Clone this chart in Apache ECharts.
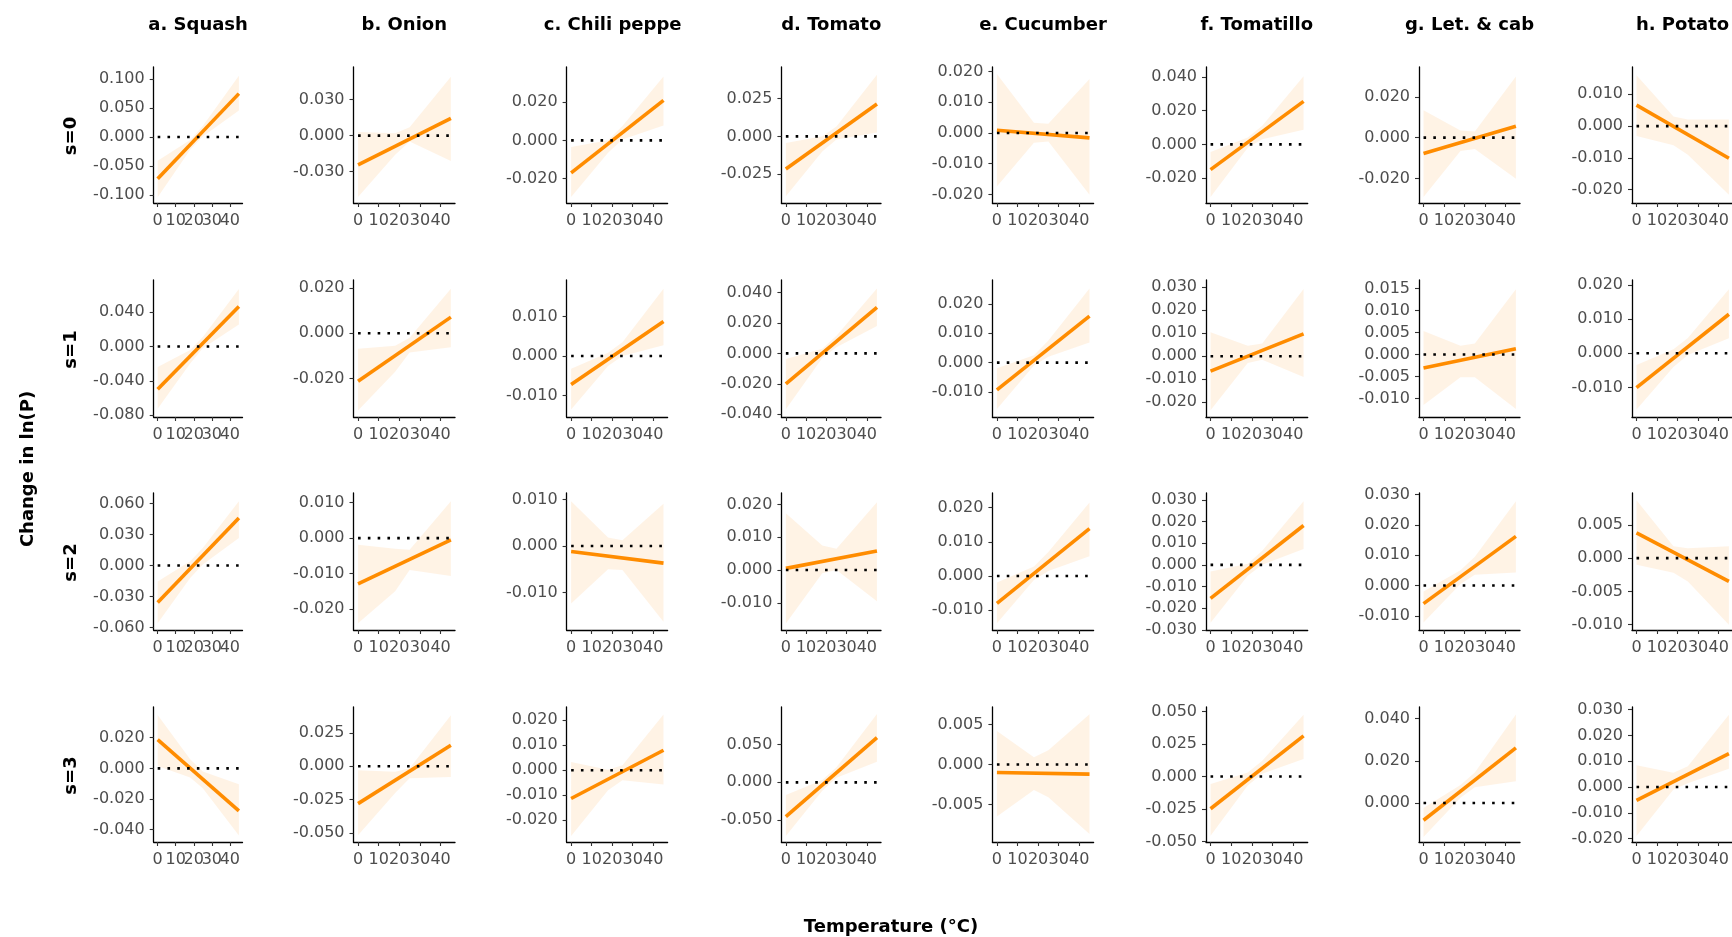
<!DOCTYPE html>
<html><head><meta charset="utf-8">
<script src="https://cdn.jsdelivr.net/npm/echarts@6/dist/echarts.min.js"></script>
<style>html,body{margin:0;padding:0;background:#fff;overflow:hidden}#chart{width:1732px;height:937px}</style>
</head><body><div id="chart"></div>
<script>
// ---------- data ----------
const crops = ['a. Squash','b. Onion','c. Chili pepper','d. Tomato','e. Cucumber','f. Tomatillo','g. Let. & cab','h. Potato'];
const lags = ['s=0','s=1','s=2','s=3'];
const tempTicks = [0,10,20,30,40];
const lineX = [0,45];
const zeroX = [0,45];
const bandX = [0,18,25,45];
const xTitle = 'Temperature (°C)';
const yTitle = 'Change in ln(P)';

// s=0
const est_s0 = [[-0.072,0.075],[-0.0243,0.0144],[-0.017,0.0209],[-0.0216,0.0214],[0.0009,-0.0016],[-0.015,0.0255],[-0.0078,0.0056],[0.0066,-0.0101]];
const lo_s0 = [[-0.104,-0.022,0.001,0.046],[-0.051,-0.016,-0.005,-0.021],[-0.0296,-0.0065,0.0005,0.0078],[-0.0396,-0.010,-0.002,0.0026],[-0.0174,-0.0032,-0.0028,-0.0201],[-0.0313,-0.002,0.003,0.0087],[-0.0291,-0.0065,-0.0055,-0.0201],[-0.0031,-0.006,-0.009,-0.0216]];
const hi_s0 = [[-0.041,-0.005,0.019,0.106],[0.003,0.002,0.007,0.049],[-0.0035,0.0,0.0075,0.0334],[-0.0044,0.0,0.0065,0.0407],[0.0192,0.0033,0.003,0.0176],[-0.0046,0.004,0.011,0.0404],[0.0134,0.0035,0.003,0.030],[0.016,0.003,0.0021,0.0021]];
const yTicks_s0 = [[-0.1,-0.05,0,0.05,0.1],[-0.03,0,0.03],[-0.02,0,0.02],[-0.025,0,0.025],[-0.02,-0.01,0,0.01,0.02],[-0.02,0,0.02,0.04],[-0.02,0,0.02],[-0.02,-0.01,0,0.01]];
const yRange_s0 = [[-0.114,0.121],[-0.056,0.057],[-0.0327,0.0383],[-0.044,0.0458],[-0.0228,0.0215],[-0.0348,0.0459],[-0.032,0.0346],[-0.0242,0.0186]];

// s=1
const est_s1 = [[-0.050,0.0466],[-0.0212,0.0071],[-0.0072,0.0087],[-0.0201,0.0302],[-0.0093,0.0158],[-0.0065,0.0097],[-0.0031,0.0013],[-0.010,0.0114]];
const lo_s1 = [[-0.0726,-0.020,-0.002,0.0256],[-0.0341,-0.017,-0.0085,-0.0062],[-0.0135,-0.0025,0.0,0.0027],[-0.0367,-0.003,0.004,0.0179],[-0.0158,-0.001,0.002,0.0068],[-0.0236,-0.003,-0.0015,-0.0091],[-0.0115,-0.0052,-0.0052,-0.0124],[-0.0164,-0.004,-0.0005,0.0044]];
const hi_s1 = [[-0.024,-0.004,0.011,0.0671],[-0.0069,-0.0055,-0.002,0.0196],[-0.0032,0.0008,0.0035,0.017],[-0.0037,0.003,0.0115,0.0426],[-0.0019,0.0025,0.0075,0.0252],[0.0104,0.0045,0.0055,0.0293],[0.0053,0.002,0.0025,0.0148],[-0.0034,0.0012,0.0045,0.0187]];
const yTicks_s1 = [[-0.08,-0.04,0,0.04],[-0.02,0,0.02],[-0.01,0,0.01],[-0.04,-0.02,0,0.02,0.04],[-0.01,0,0.01,0.02],[-0.02,-0.01,0,0.01,0.02,0.03],[-0.01,-0.005,0,0.005,0.01,0.015],[-0.01,0,0.01,0.02]];
const yRange_s1 = [[-0.0823,0.0776],[-0.037,0.0235],[-0.0154,0.0192],[-0.0418,0.0482],[-0.0185,0.0281],[-0.0265,0.0332],[-0.0142,0.0169],[-0.0186,0.0214]];

// s=2
const est_s2 = [[-0.0358,0.0458],[-0.0129,-0.0005],[-0.0012,-0.0037],[0.0005,0.0058],[-0.008,0.0139],[-0.0155,0.0182],[-0.006,0.0162],[0.0038,-0.0035]];
const lo_s2 = [[-0.0559,-0.012,0.001,0.0265],[-0.024,-0.015,-0.009,-0.0107],[-0.0124,-0.005,-0.0052,-0.0163],[-0.0163,-0.001,0.0,-0.0095],[-0.0138,-0.0012,0.0015,0.0058],[-0.0267,-0.005,0.0,0.0073],[-0.0122,0.0005,0.0035,0.0043],[-0.001,-0.0022,-0.0035,-0.010]];
const hi_s2 = [[-0.0155,0.004,0.017,0.062],[-0.0019,-0.003,-0.0033,0.0104],[0.0096,0.0018,0.0012,0.0091],[0.0173,0.0075,0.0065,0.0207],[-0.0019,0.0028,0.007,0.0215],[-0.0031,0.0005,0.0065,0.0294],[-0.002,0.005,0.0095,0.0278],[0.0087,0.0018,0.0015,0.0018]];
const yTicks_s2 = [[-0.06,-0.03,0,0.03,0.06],[-0.02,-0.01,0,0.01],[-0.01,0,0.01],[-0.01,0,0.01,0.02],[-0.01,0,0.01,0.02],[-0.03,-0.02,-0.01,0,0.01,0.02,0.03],[-0.01,0,0.01,0.02,0.03],[-0.01,-0.005,0,0.005]];
const yRange_s2 = [[-0.0623,0.070],[-0.0259,0.0127],[-0.0181,0.0114],[-0.0183,0.0235],[-0.0158,0.0243],[-0.0301,0.0332],[-0.0147,0.0305],[-0.0108,0.0098]];

// s=3
const est_s3 = [[0.0187,-0.0277],[-0.028,0.0158],[-0.0113,0.008],[-0.0454,0.059],[-0.001,-0.0012],[-0.0249,0.0312],[-0.0082,0.0261],[-0.0052,0.0129]];
const lo_s3 = [[0.0015,-0.006,-0.013,-0.0437],[-0.0518,-0.020,-0.009,-0.008],[-0.0263,-0.008,-0.004,-0.0057],[-0.0709,-0.011,0.006,0.0273],[-0.0065,-0.0032,-0.0041,-0.0087],[-0.0457,-0.007,0.002,0.0135],[-0.0161,0.0025,0.0075,0.0103],[-0.019,-0.001,0.0015,0.0071]];
const hi_s3 = [[0.0348,0.006,-0.002,-0.0103],[-0.003,-0.004,-0.0015,0.0383],[0.0033,0.0002,0.002,0.0223],[-0.0167,0.003,0.020,0.0903],[0.0042,0.0009,0.0018,0.0063],[-0.0058,0.003,0.012,0.0475],[-0.0024,0.0085,0.0145,0.0419],[0.0084,0.0055,0.008,0.028]];
const yTicks_s3 = [[-0.04,-0.02,0,0.02],[-0.05,-0.025,0,0.025],[-0.02,-0.01,0,0.01,0.02],[-0.05,0,0.05],[-0.005,0,0.005],[-0.05,-0.025,0,0.025,0.05],[0,0.02,0.04],[-0.02,-0.01,0,0.01,0.02,0.03]];
const yRange_s3 = [[-0.048,0.040],[-0.0568,0.0445],[-0.0287,0.0253],[-0.0789,0.0996],[-0.0097,0.0072],[-0.0505,0.0535],[-0.0185,0.0455],[-0.0213,0.031]];

// ---------- layout ----------
const panelLeft  = [153.7, 353.5, 566.6, 781.4, 992.4, 1206, 1419, 1632];
const panelRight = [242.5, 455, 667.6, 881, 1093.6, 1307.7, 1520, 1733];
const panelTop = [67, 280, 493, 707];
const panelBottom = [203, 417, 630, 842];
const xMin = -2.2, xMax = 47;
const FF = '"DejaVu Sans", "Liberation Sans", sans-serif';
const TITLE_FONT = 'bold 18px "DejaVu Sans"';

const rowsData = [
  {est: est_s0, lo: lo_s0, hi: hi_s0, ticks: yTicks_s0, range: yRange_s0},
  {est: est_s1, lo: lo_s1, hi: hi_s1, ticks: yTicks_s1, range: yRange_s1},
  {est: est_s2, lo: lo_s2, hi: hi_s2, ticks: yTicks_s2, range: yRange_s2},
  {est: est_s3, lo: lo_s3, hi: hi_s3, ticks: yTicks_s3, range: yRange_s3}
];

// tick labels split (alternating) across two bottom axes so ECharts never drops an overlapping one
const labelsEven = tempTicks.filter((v, i) => i % 2 === 0);
const labelsOdd = tempTicks.filter((v, i) => i % 2 === 1);
const xLabelStyle = {show: true, interval: 0, color: '#4d4d4d', fontSize: 16, fontFamily: FF, margin: 10,
  hideOverlap: false, showMinLabel: true, showMaxLabel: true, formatter: v => String(v)};

const grids = [], xAxes = [], yAxes = [], series = [];
rowsData.forEach((rd, r) => {
  for (let c = 0; c < crops.length; c++) {
    const gi = grids.length;
    grids.push({left: panelLeft[c], top: panelTop[r], width: panelRight[c] - panelLeft[c],
      height: panelBottom[r] - panelTop[r], containLabel: false, outerBoundsMode: 'none', show: false});
    const xi = xAxes.length;
    xAxes.push({type: 'value', gridIndex: gi, position: 'bottom', min: xMin, max: xMax,
      axisLine: {show: true, onZero: false, lineStyle: {color: '#000', width: 1.3}},
      axisTick: {show: true, length: 4, customValues: tempTicks, lineStyle: {color: '#333', width: 1.1}},
      axisLabel: Object.assign({customValues: labelsEven}, xLabelStyle),
      splitLine: {show: false}});
    xAxes.push({type: 'value', gridIndex: gi, position: 'bottom', offset: 0, min: xMin, max: xMax,
      axisLine: {show: false, onZero: false},
      axisTick: {show: false},
      axisLabel: Object.assign({customValues: labelsOdd}, xLabelStyle),
      splitLine: {show: false}});
    yAxes.push({type: 'value', gridIndex: gi, min: rd.range[c][0], max: rd.range[c][1],
      axisLine: {show: true, onZero: false, lineStyle: {color: '#000', width: 1.3}},
      axisTick: {show: true, length: 4, customValues: rd.ticks[c], lineStyle: {color: '#333', width: 1.1}},
      axisLabel: {show: true, customValues: rd.ticks[c], interval: 0, color: '#4d4d4d', fontSize: 16, fontFamily: FF, margin: 9,
        hideOverlap: false, showMinLabel: true, showMaxLabel: true,
        formatter: v => Number(v).toFixed(3)},
      splitLine: {show: false}});
    const pts = bandX.map((x, j) => [x, rd.lo[c][j], rd.hi[c][j]]);
    series.push({type: 'custom', xAxisIndex: xi, yAxisIndex: gi, silent: true, z: 1, clip: true,
      data: pts, encode: {x: 0, y: [1, 2]},
      renderItem: (params, api) => {
        if (params.dataIndex !== 0) return null;
        const poly = [];
        for (let j = 0; j < pts.length; j++) poly.push(api.coord([pts[j][0], pts[j][2]]));
        for (let j = pts.length - 1; j >= 0; j--) poly.push(api.coord([pts[j][0], pts[j][1]]));
        return {type: 'polygon', shape: {points: poly}, style: {fill: 'rgba(255,140,0,0.1)'}};
      }});
    series.push({type: 'line', xAxisIndex: xi, yAxisIndex: gi, z: 2, silent: true, symbol: 'none', showSymbol: false,
      data: lineX.map((x, j) => [x, rd.est[c][j]]),
      lineStyle: {color: '#FF8C00', width: 3.6, cap: 'butt'}});
    series.push({type: 'line', xAxisIndex: xi, yAxisIndex: gi, z: 3, silent: true, symbol: 'none', showSymbol: false,
      data: zeroX.map(x => [x, 0]),
      lineStyle: {color: '#000', width: 2.6, type: [2.6, 7.2], cap: 'butt'}});
  }
});

const mctx = document.createElement('canvas').getContext('2d');
function textW(t, font) { mctx.font = font; return mctx.measureText(t).width; }

const graphics = [];
crops.forEach((name, c) => {
  const cx = (panelLeft[c] + panelRight[c]) / 2;
  const w = textW(name, TITLE_FONT);
  const left = cx - w / 2;
  graphics.push({type: 'text', x: left, y: 25, silent: true,
    style: {text: name, font: TITLE_FONT, fill: '#000', textAlign: 'left', align: 'left',
      textVerticalAlign: 'middle', verticalAlign: 'middle',
      width: panelRight[c] + 20 - left, overflow: 'truncate', ellipsis: ''}});
});
lags.forEach((lab, r) => {
  graphics.push({type: 'text', x: 71, y: (panelTop[r] + panelBottom[r]) / 2 + 1, rotation: Math.PI / 2, silent: true,
    style: {text: lab, font: TITLE_FONT, fill: '#000', textAlign: 'center', align: 'center',
      textVerticalAlign: 'middle', verticalAlign: 'middle'}});
});
graphics.push({type: 'text', x: 28, y: 469, rotation: Math.PI / 2, silent: true,
  style: {text: yTitle, font: TITLE_FONT, fill: '#000', textAlign: 'center', align: 'center',
    textVerticalAlign: 'middle', verticalAlign: 'middle'}});
graphics.push({type: 'text', x: 891, y: 927, silent: true,
  style: {text: xTitle, font: TITLE_FONT, fill: '#000', textAlign: 'center', align: 'center',
    textVerticalAlign: 'middle', verticalAlign: 'middle'}});

const chart = echarts.init(document.getElementById('chart'), null, {renderer: 'canvas'});
chart.setOption({
  animation: false,
  backgroundColor: '#fff',
  textStyle: {fontFamily: FF},
  grid: grids, xAxis: xAxes, yAxis: yAxes, series: series,
  graphic: graphics
});
</script></body></html>
